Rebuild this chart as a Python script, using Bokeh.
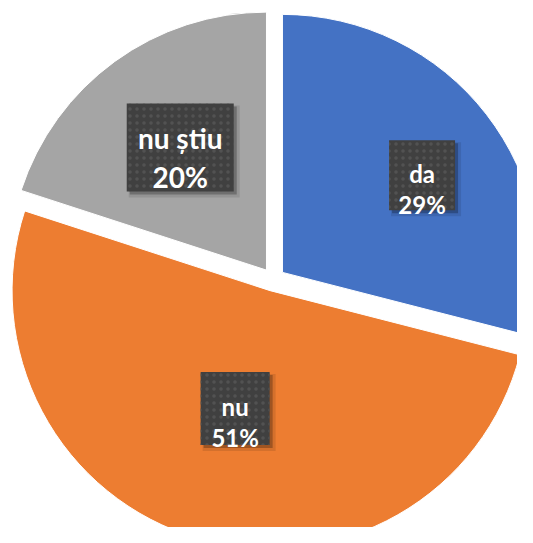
import numpy as np
from bokeh.plotting import figure
from bokeh.models import Range1d, ColumnDataSource
from bokeh.embed import file_html
from bokeh.resources import INLINE
from bokeh.core.properties import value

# ---- data ----
categories = ["da", "nu", "nu știu"]
percent = [29, 51, 20]
pct_labels = ["29%", "51%", "20%"]
colors = ["#4472C4", "#ED7D31", "#A5A5A5"]

# ---- layout ----
W, H = 517, 527
cx, cy, R, explode = 272.8, 264.0, 258.0, 11.6
label_r = [170.0, 123.0, 150.0]
label_shift_deg = [3.0, 0.3, 0.9]
box_w = [66, 69, 107]
box_h = [70, 73, 88]
font_px = [24, 24, 28]
line1_dy = [2, 2, 9]
line2_dy = [-29, -29, -30]

p = figure(width=W, height=H, x_range=Range1d(0, W), y_range=Range1d(543 - H, 543),
           output_backend="svg", toolbar_location=None, min_border=0)
p.axis.visible = False
p.grid.visible = False
p.outline_line_color = None
p.background_fill_color = "white"

vals = np.array(percent, dtype=float) / sum(percent)
cum = np.concatenate([[0.0], np.cumsum(vals)])
t0 = cum[:-1] * 2 * np.pi
t1 = cum[1:] * 2 * np.pi
mid = (t0 + t1) / 2
ox = cx + explode * np.sin(mid)
oy = cy + explode * np.cos(mid)

wsrc = ColumnDataSource(dict(x=ox, y=oy, s=np.pi / 2 - t0, e=np.pi / 2 - t1, c=colors))
p.wedge(x="x", y="y", radius=R, start_angle="s", end_angle="e", direction="clock",
        fill_color="c", line_color="white", line_width=1, source=wsrc)

la = mid + np.deg2rad(label_shift_deg)
lx = ox + np.array(label_r) * np.sin(la)
ly = oy + np.array(label_r) * np.cos(la)

bsrc = ColumnDataSource(dict(x=lx, y=ly, w=box_w, h=box_h,
                             sx=lx + 4, sy=ly - 4, sx2=lx + 3, sy2=ly - 3,
                             w2=np.array(box_w) + 4, h2=np.array(box_h) + 4))
p.rect(x="sx", y="sy", width="w2", height="h2", fill_color="black", fill_alpha=0.10,
       line_color=None, source=bsrc)
p.rect(x="sx2", y="sy2", width="w", height="h", fill_color="black", fill_alpha=0.25,
       line_color=None, source=bsrc)
p.rect(x="x", y="y", width="w", height="h", fill_color="#404040", line_color=None,
       hatch_pattern="dot", hatch_color="#525252", hatch_scale=7, hatch_weight=1.2,
       source=bsrc)

tsrc = ColumnDataSource(dict(
    x=list(lx) + list(lx),
    y=list(ly + np.array(line1_dy)) + list(ly + np.array(line2_dy)),
    t=categories + pct_labels,
    fs=[f"{f}px" for f in font_px] * 2,
))
p.text(x="x", y="y", text="t", text_font=value("Lato"), text_font_style="bold",
       text_font_size="fs", text_color="white", text_align="center",
       text_baseline="alphabetic", source=tsrc)

open("out.html", "w").write(file_html(p, INLINE))
